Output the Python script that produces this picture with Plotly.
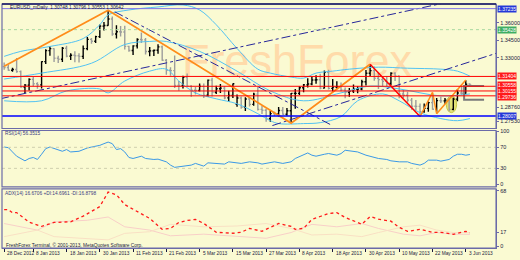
import pandas as pd
import plotly.graph_objects as go

# ---------------- data ----------------
dates = pd.bdate_range("2012-12-28", "2013-06-04")
bar_idx = list(range(len(dates)))

opens = [1.3225,1.3217,1.3193,1.3200,1.3182,1.3050,1.3066,1.3115,1.3078,1.3068,
         1.3268,1.3362,1.3380,1.3297,1.3288,1.3383,1.3315,1.3322,1.3318,1.3313,
         1.3380,1.3459,1.3443,1.3483,1.3573,1.3579,1.3634,1.3505,1.3525,1.3523,
         1.3399,1.3363,1.3403,1.3458,1.3455,1.3355,1.3360,1.3365,1.3395,1.3280,
         1.3193,1.3190,1.3063,1.3062,1.3134,1.3057,1.3022,1.3020,1.3055,1.2980,
         1.3109,1.3004,1.3034,1.3040,1.2956,1.2976,1.2900,1.2955,1.2875,1.2946,
         1.2900,1.2988,1.2857,1.2850,1.2777,1.2821,1.2818,1.2848,1.2815,1.2845,
         1.2995,1.2995,1.3043,1.3068,1.3075,1.3110,1.3112,1.3040,1.3175,1.3038,
         1.3049,1.3052,1.3025,1.3005,1.3015,1.3030,1.3033,1.3095,1.3168,1.3190,
         1.3125,1.3113,1.3098,1.3080,1.3168,1.3144,1.2990,1.2979,1.2937,1.2884,
         1.2883,1.2838,1.2866,1.2915,1.2858,1.2932,1.2930,1.2937,1.2857,1.2945,
         1.2998,1.2996,1.30748]
highs = [1.3260,1.3240,1.3215,1.3299,1.3192,1.3075,1.3125,1.3136,1.3090,1.3270,
         1.3375,1.3403,1.3383,1.3318,1.3393,1.3404,1.3340,1.3356,1.3340,1.3407,
         1.3479,1.3472,1.3491,1.3588,1.3609,1.3711,1.3656,1.3580,1.3574,1.3577,
         1.3404,1.3408,1.3468,1.3519,1.3470,1.3394,1.3371,1.3417,1.3406,1.3290,
         1.3219,1.3320,1.3102,1.3147,1.3165,1.3065,1.3050,1.3080,1.3080,1.3115,
         1.3130,1.3061,1.3075,1.3057,1.3017,1.3080,1.2985,1.2967,1.2962,1.2966,
         1.3001,1.3050,1.2887,1.2863,1.2846,1.2836,1.2878,1.2877,1.2870,1.2997,
         1.3033,1.3055,1.3076,1.3125,1.3140,1.3150,1.3163,1.3192,1.3198,1.3119,
         1.3100,1.3089,1.3045,1.3040,1.3071,1.3055,1.3111,1.3196,1.3243,1.3226,
         1.3170,1.3134,1.3139,1.3176,1.3177,1.3148,1.3023,1.3008,1.2956,1.2938,
         1.2908,1.2908,1.2925,1.2997,1.2955,1.2966,1.2954,1.2956,1.2957,1.3033,
         1.3062,1.3107,1.30796]
lows = [1.3199,1.3190,1.3180,1.3172,1.3043,1.2998,1.3020,1.3056,1.3035,1.3036,
        1.3248,1.3319,1.3265,1.3256,1.3265,1.3306,1.3282,1.3262,1.3260,1.3290,
        1.3365,1.3422,1.3428,1.3472,1.3536,1.3576,1.3491,1.3466,1.3483,1.3371,
        1.3352,1.3325,1.3381,1.3429,1.3330,1.3314,1.3317,1.3335,1.3275,1.3154,
        1.3146,1.3040,1.3018,1.3037,1.3053,1.2966,1.2985,1.3011,1.2954,1.2966,
        1.2968,1.2990,1.2999,1.2945,1.2920,1.2956,1.2880,1.2862,1.2843,1.2881,
        1.2889,1.2848,1.2818,1.2750,1.2751,1.2801,1.2796,1.2811,1.2803,1.2745,
        1.2862,1.2981,1.3005,1.3045,1.3064,1.3077,1.3030,1.3036,1.3028,1.3011,
        1.3034,1.3012,1.2952,1.2966,1.2998,1.2995,1.3021,1.3063,1.3144,1.3104,
        1.3033,1.3053,1.3053,1.3064,1.3102,1.2952,1.2955,1.2917,1.2853,1.2851,
        1.2796,1.2829,1.2836,1.2855,1.2830,1.2913,1.2906,1.2842,1.2849,1.2927,
        1.2982,1.2992,1.30553]
closes = [1.3217,1.3193,1.3200,1.3182,1.3050,1.3066,1.3115,1.3078,1.3068,1.3268,
          1.3362,1.3380,1.3297,1.3288,1.3383,1.3315,1.3322,1.3318,1.3313,1.3380,
          1.3459,1.3443,1.3483,1.3573,1.3579,1.3634,1.3505,1.3525,1.3523,1.3399,
          1.3363,1.3403,1.3458,1.3455,1.3355,1.3360,1.3365,1.3395,1.3280,1.3193,
          1.3190,1.3063,1.3062,1.3134,1.3057,1.3022,1.3020,1.3055,1.2980,1.3109,
          1.3004,1.3034,1.3040,1.2956,1.2976,1.3077,1.2955,1.2875,1.2946,1.2900,
          1.2988,1.2857,1.2850,1.2777,1.2821,1.2818,1.2848,1.2815,1.2845,1.2995,
          1.2995,1.3043,1.3068,1.3075,1.3110,1.3112,1.3040,1.3175,1.3038,1.3049,
          1.3052,1.3025,1.3005,1.3015,1.3030,1.3033,1.3095,1.3168,1.3190,1.3125,
          1.3113,1.3098,1.3080,1.3168,1.3144,1.2990,1.2979,1.2937,1.2884,1.2883,
          1.2838,1.2866,1.2915,1.2858,1.2932,1.2930,1.2937,1.2857,1.2945,1.2998,
          1.2996,1.3073,1.30642]

tick_dates = ["2012-12-28","2013-01-08","2013-01-18","2013-01-30","2013-02-11",
              "2013-02-21","2013-03-05","2013-03-15","2013-03-27","2013-04-08",
              "2013-04-18","2013-04-30","2013-05-10","2013-05-22","2013-06-03"]
tick_labels = ["28 Dec 2012","8 Jan 2013","18 Jan 2013","30 Jan 2013","11 Feb 2013",
               "21 Feb 2013","5 Mar 2013","15 Mar 2013","27 Mar 2013","8 Apr 2013",
               "18 Apr 2013","30 Apr 2013","10 May 2013","22 May 2013","3 Jun 2013"]

price_tick_vals = [1.36000, 1.34500, 1.33000, 1.28760, 1.27530]
price_tick_text = ["1.36000", "1.34500", "1.33000", "1.28760", "1.27530"]
rsi_tick_vals = [100, 70, 30, 0]
adx_tick_vals = [68, 17, 0]

level_prices = [1.37235, 1.35428, 1.31404, 1.30558, 1.30155, 1.29736, 1.28007]
level_kinds = ["purple", "green", "red", "red", "red", "red", "blue"]

bb_upper_idx = [0,4,11,19,23,25,30,37,43,47,51,56,61,64,69,72,75,79,83,90,97,105,109,112]
bb_upper = [1.3313,1.3356,1.3398,1.3466,1.3585,1.3670,1.3712,1.3738,1.3755,1.3712,1.3585,1.3381,
            1.3203,1.3169,1.3135,1.3126,1.3169,1.3186,1.3203,1.3220,1.3211,1.3203,1.3186,1.3143]
bb_lower_idx = [0,9,15,23,25,29,35,39,42,46,51,56,61,64,66,72,76,81,85,91,95,100,105,109,112]
bb_lower = [1.2931,1.2931,1.3016,1.3033,1.2999,1.3101,1.3186,1.3203,1.3101,1.2999,1.2948,1.2905,
            1.2820,1.2760,1.2735,1.2735,1.2743,1.2795,1.2931,1.2990,1.2931,1.2829,1.2778,1.2760,1.2778]
bb_mid_idx = [0,9,21,29,35,39,47,56,64,72,81,88,95,105,112]
bb_mid = [1.3118,1.3169,1.3254,1.3415,1.3441,1.3441,1.3356,1.3186,1.3016,1.2931,1.2999,1.3058,
          1.3033,1.2973,1.2990]

trend1_idx = [-1, 105]
trend1_price = [1.2948, 1.3766]
trend2_idx = [64.5, 118.3]
trend2_price = [1.2718, 1.3339]
trend3_idx = [26.6, 78.9]
trend3_price = [1.3696, 1.2718]

zz_idx = [0, 25, 69, 88]
zz_price = [1.3228, 1.3710, 1.2739, 1.3245]
zz_red_idx = [88, 100]
zz_red_price = [1.3245, 1.2795]
zz2_idx = [100, 103, 104, 111]
zz2_price = [1.2795, 1.3003, 1.2820, 1.3109]

bracket_idx = [115.4, 110.6, 110.6, 115.4]
bracket_price = [1.3058, 1.3058, 1.2939, 1.2939]
highlight_idx = [106.3, 108.8]
highlight_price = [1.2829, 1.2973]

rsi_idx = [0,1,2,3,5,6,7,8,9,10,11,13,14,15,16,18,19,20,21,23,24,25,26,27,28,29,30,31,33,34,
           36,37,39,40,41,43,45,46,48,49,51,53,54,56,57,59,61,62,64,65,67,69,70,72,73,74,75,77,
           78,80,81,82,84,85,87,89,90,92,93,95,97,98,100,101,102,104,105,107,108,109,110,111,112]
rsi_val = [70.5,69.4,61.2,53.1,44.3,48.8,50.7,46.9,56.8,67.5,70.5,64.4,62.5,65.7,61.2,62.5,65.7,
           68.7,70.5,73.7,76.9,79.9,76.9,65.7,67.5,61.2,50.7,48.8,53.1,48.8,46.9,47.5,42.4,36.2,
           31.9,34.3,36.2,39.4,34.3,40.5,39.4,38.1,42.4,40.5,39.4,42.4,40.5,38.1,40.5,42.4,39.4,
           42.4,48.8,55.0,59.3,55.0,53.1,56.8,58.2,55.0,58.0,64.4,63.0,61.2,55.0,50.7,48.8,46.9,
           44.3,42.4,42.4,39.4,36.2,39.4,45.6,45.6,43.7,46.9,53.1,56.8,56.8,55.0,56.35]
rsi_levels = [70, 30]

adx_idx = [0,1,2,3,6,9,12,14,16,19,23,25,27,29,32,35,38,40,42,44,46,48,51,55,57,59,62,65,66,
           69,70,72,74,76,78,80,82,85,86,88,90,93,95,97,100,103,105,108,109,111,112]
adx_val = [45.0,45.0,41.1,41.4,29.7,24.5,29.3,29.3,30.2,37.0,48.7,66.4,63.2,51.1,42.6,34.2,20.9,
           22.1,29.3,31.8,33.0,28.1,17.3,16.1,17.3,22.1,18.5,25.7,28.1,24.5,20.9,22.1,33.0,36.6,
           40.2,41.4,35.4,29.3,27.0,36.6,33.3,30.9,23.3,18.5,20.9,17.3,17.3,14.9,16.1,18.5,16.67]
di_idx = [0,8,12,20,25,29,35,40,48,56,63,69,74,80,86,90,96,100,104,108,112]
pdi_val = [28,20,30,32,36,24,20,13,15,12,10,17,27,24,28,22,15,13,17,15,14.7]
mdi_val = [12,20,12,9,8,16,18,27,24,25,28,22,14,15,12,17,24,26,20,17,16.9]

title_text = "EURUSD_mDaily  1.30748 1.30796 1.30553 1.30642"
rsi_text = "RSI(14) 56.3515"
adx_text = "ADX(14) 16.6706 +DI:14.6961 -DI:16.8798"
copy_text = "FreshForex Terminal, \u00a9 2001-2013, MetaQuotes Software Corp."
watermark = "FreshForex"

# ---------------- geometry ----------------
W, H = 520, 260
FONT = "Liberation Sans"
BG = "#FAFAD2"
FRAME = "#6b6ba8"
TXT = "#1a1a40"

def py(p):  # pixel row -> paper y
    return 1 - p / H

x_dom = [2 / W, 497 / W]
x_range = [-0.52, 118.28]
dom_price = [py(128), py(2)]
dom_rsi = [py(187), py(130)]
dom_adx = [py(249), py(189)]
price_range = [1.26925, 1.37635]
rsi_range = [-5.07, 101.9]
adx_range = [-2.05, 70.42]

fig = go.Figure()

# Bollinger-like bands
for xi, yi in [(bb_upper_idx, bb_upper), (bb_lower_idx, bb_lower), (bb_mid_idx, bb_mid)]:
    fig.add_trace(go.Scatter(x=xi, y=yi, mode="lines", line=dict(color="#52c2f2", width=1, shape="spline"),
                             yaxis="y", hoverinfo="skip", showlegend=False))

# trend lines
for xi, yi in [(trend1_idx, trend1_price), (trend2_idx, trend2_price), (trend3_idx, trend3_price)]:
    fig.add_trace(go.Scatter(x=xi, y=yi, mode="lines", line=dict(color="#26269a", width=1, dash="dashdot"),
                             yaxis="y", hoverinfo="skip", showlegend=False))

# bars
fig.add_trace(go.Ohlc(x=bar_idx, open=opens, high=highs, low=lows, close=closes,
                      increasing=dict(line=dict(color="#000000", width=1.4)),
                      decreasing=dict(line=dict(color="#9c9c9c", width=1.4)),
                      tickwidth=0.35, yaxis="y", hoverinfo="skip", showlegend=False))

# zigzag
fig.add_trace(go.Scatter(x=zz_idx, y=zz_price, mode="lines", line=dict(color="#ff8c1a", width=1.8),
                         yaxis="y", hoverinfo="skip", showlegend=False))
fig.add_trace(go.Scatter(x=zz_red_idx, y=zz_red_price, mode="lines", line=dict(color="#ff0000", width=1.5),
                         yaxis="y", hoverinfo="skip", showlegend=False))
fig.add_trace(go.Scatter(x=zz2_idx, y=zz2_price, mode="lines", line=dict(color="#ff8c1a", width=1.5),
                         yaxis="y", hoverinfo="skip", showlegend=False))
fig.add_trace(go.Scatter(x=bracket_idx, y=bracket_price, mode="lines", line=dict(color="#7a7a7a", width=2),
                         yaxis="y", hoverinfo="skip", showlegend=False))

# RSI
fig.add_trace(go.Scatter(x=rsi_idx, y=rsi_val, mode="lines", line=dict(color="#3a98e6", width=1),
                         yaxis="y2", hoverinfo="skip", showlegend=False))
# ADX
fig.add_trace(go.Scatter(x=di_idx, y=pdi_val, mode="lines", line=dict(color="#f8cfc8", width=1),
                         yaxis="y3", hoverinfo="skip", showlegend=False))
fig.add_trace(go.Scatter(x=di_idx, y=mdi_val, mode="lines", line=dict(color="#f9e0c4", width=1),
                         yaxis="y3", hoverinfo="skip", showlegend=False))
fig.add_trace(go.Scatter(x=adx_idx, y=adx_val, mode="lines", line=dict(color="#ff1a1a", width=1.3, dash="dot"),
                         yaxis="y3", hoverinfo="skip", showlegend=False))

shapes = []
annotations = []

# watermark (below traces)
shapes.append(dict(type="rect", xref="paper", yref="paper", x0=180 / W, x1=415 / W, y0=py(78), y1=py(32),
                   line=dict(width=0), fillcolor="rgba(0,0,0,0)", layer="below",
                   label=dict(text=watermark, font=dict(family=FONT, size=45, color="#FFDBAA"),
                              textposition="middle center")))

# highlight ellipse
shapes.append(dict(type="circle", xref="x", yref="y", x0=highlight_idx[0], x1=highlight_idx[1],
                   y0=highlight_price[0], y1=highlight_price[1], fillcolor="rgba(214,214,70,0.65)",
                   line=dict(color="#c9c94a", width=1), layer="below"))

line_col = {"purple": "#7f74e6", "green": "#a8d8a0", "red": "#ff0000", "blue": "#0000ff"}
box_col = {"purple": "#2438d8", "green": "#3fae63", "red": "#ff1a1a", "blue": "#2438d8"}
box_shift = {1.30558: 1, 1.29736: -1}
for p, k in zip(level_prices, level_kinds):
    shapes.append(dict(type="line", xref="x domain", yref="y", x0=0, x1=1, y0=p, y1=p,
                       line=dict(color=line_col[k], width=1.5 if k == "blue" else 1,
                                 dash="dot" if k == "green" else "solid")))
    annotations.append(dict(xref="paper", yref="y", x=498 / W, y=p, xanchor="left", yanchor="middle",
                            yshift=box_shift.get(p, 0),
                            text=f"{p:.5f}", showarrow=False, bgcolor=box_col[k], borderpad=0,
                            font=dict(family=FONT, size=5, color="#ffffff")))

for lv in rsi_levels:
    shapes.append(dict(type="line", xref="x domain", yref="y2", x0=0, x1=1, y0=lv, y1=lv,
                       line=dict(color="#cfcfae", width=1, dash="dot")))

# panel frames
for yr in ["y domain", "y2 domain", "y3 domain"]:
    shapes.append(dict(type="rect", xref="paper", yref=yr, x0=x_dom[0], x1=x_dom[1], y0=0, y1=1,
                       line=dict(color=FRAME, width=1.2)))
shapes.append(dict(type="line", xref="paper", yref="y domain", x0=x_dom[0], x1=x_dom[1], y0=1, y1=1,
                   line=dict(color="#101060", width=1.5)))

# texts
small = dict(family=FONT, size=4.8, color=TXT)
annotations.append(dict(xref="paper", yref="paper", x=8 / W, y=py(5.5), xanchor="left", yanchor="middle",
                        text=title_text, showarrow=False, font=small))
annotations.append(dict(xref="paper", yref="paper", x=3 / W, y=py(133), xanchor="left", yanchor="middle",
                        text=rsi_text, showarrow=False, font=dict(family=FONT, size=4.8, color="#3a3a80")))
annotations.append(dict(xref="paper", yref="paper", x=3 / W, y=py(193.5), xanchor="left", yanchor="middle",
                        text=adx_text, showarrow=False, font=dict(family=FONT, size=4.8, color="#3a3a80")))
annotations.append(dict(xref="paper", yref="paper", x=4 / W, y=py(245.5), xanchor="left", yanchor="middle",
                        text=copy_text, showarrow=False, font=small))

date_strs = [d.strftime("%Y-%m-%d") for d in dates]
tick_pos = [date_strs.index(d) for d in tick_dates]
for pos, lab in zip(tick_pos, tick_labels):
    annotations.append(dict(xref="x", yref="paper", x=pos, y=py(254), xanchor="left", yanchor="middle",
                            xshift=1, text=lab, showarrow=False, font=small))

yax = dict(side="right", anchor="x", showgrid=False, zeroline=False, ticks="outside", ticklen=2,
           tickcolor=FRAME, showline=True, linecolor=FRAME, linewidth=1,
           tickfont=dict(family=FONT, size=5.5, color=TXT), fixedrange=True)

fig.update_layout(
    width=W, height=H, margin=dict(l=0, r=0, t=0, b=0),
    paper_bgcolor=BG, plot_bgcolor=BG, showlegend=False,
    xaxis=dict(domain=x_dom, range=x_range, anchor="y3", showgrid=False, zeroline=False,
               showline=True, linecolor=FRAME, ticks="outside", ticklen=3, tickcolor=TXT,
               tickvals=tick_pos, showticklabels=False, rangeslider=dict(visible=False)),
    yaxis=dict(yax, domain=dom_price, range=price_range, tickvals=price_tick_vals, ticktext=price_tick_text),
    yaxis2=dict(yax, domain=dom_rsi, range=rsi_range, tickvals=rsi_tick_vals),
    yaxis3=dict(yax, domain=dom_adx, range=adx_range, tickvals=adx_tick_vals),
    shapes=shapes, annotations=annotations,
)

fig.write_html("out.html")
